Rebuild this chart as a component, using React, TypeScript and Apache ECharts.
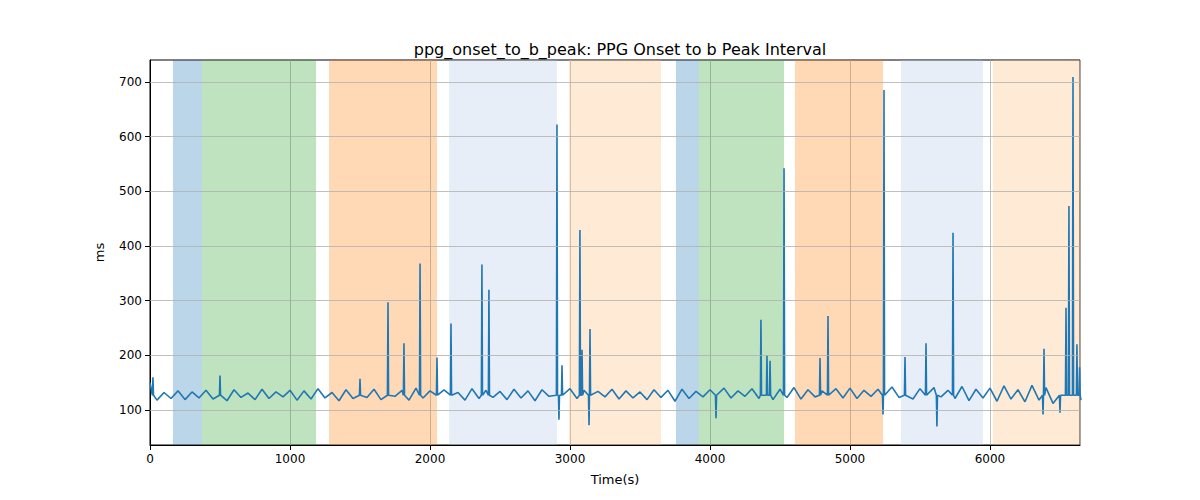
import { useEffect, useRef } from "react";
import * as echarts from "echarts";

// baseline samples, one every 50 s
const baseStep = 50;
const baseline = [
  150, 118, 132, 121, 135, 119, 133, 122, 136, 120,
  134, 117, 137, 123, 131, 119, 138, 121, 133, 124,
  136, 118, 135, 120, 139, 122, 132, 117, 137, 121,
  134, 123, 138, 119, 133, 125, 136, 118, 140, 122,
  135, 120, 137, 124, 132, 118, 139, 121, 136, 123,
  134, 119, 138, 122, 135, 117, 137, 125, 133, 120,
  139, 121, 136, 118, 134, 124, 138, 120, 135, 122,
  133, 119, 137, 123, 136, 116, 138, 121, 134, 124,
  137, 120, 140, 122, 135, 125, 139, 121, 136, 119,
  138, 123, 141, 120, 137, 124, 135, 118, 139, 122,
  140, 121, 136, 125, 138, 119, 142, 123, 137, 120,
  139, 118, 141, 124, 136, 121, 143, 117, 138, 122,
  140, 116, 144, 120, 137, 115, 145, 118, 141, 112,
  146, 114, 150, 118,
];

// spikes and dips [time, ms]
const spikes: [number, number][] = [
  [21, 160], [500, 163], [1500, 157], [1700, 297], [1814, 222],
  [1929, 368], [2050, 196], [2150, 258], [2371, 366], [2421, 320],
  [2907, 622], [2921, 82], [2943, 182], [3071, 429], [3086, 210],
  [3136, 72], [3143, 248], [4043, 85], [4364, 265], [4407, 200],
  [4429, 190], [4529, 542], [4786, 195], [4843, 272], [5236, 92],
  [5243, 685], [5393, 197], [5543, 222], [5621, 70], [5736, 424],
  [6379, 92], [6386, 212], [6500, 95], [6543, 287], [6564, 473],
  [6593, 709], [6621, 220], [6640, 178],
];
const spikeFoot = 127;
const spikeHalfWidth = 4;

// shaded segments [start, end, colour]
const bands: [number, number, string][] = [
  [164, 371, "rgba(31,119,180,0.3)"],
  [371, 1186, "rgba(44,160,44,0.3)"],
  [1279, 2050, "rgba(255,127,14,0.3)"],
  [2136, 2907, "rgba(174,199,232,0.3)"],
  [2993, 3650, "rgba(255,187,120,0.3)"],
  [3757, 3921, "rgba(31,119,180,0.3)"],
  [3921, 4529, "rgba(44,160,44,0.3)"],
  [4607, 5236, "rgba(255,127,14,0.3)"],
  [5364, 5950, "rgba(174,199,232,0.3)"],
  [6021, 6643, "rgba(255,187,120,0.3)"],
];

const yTicks = [100, 200, 300, 400, 500, 600, 700];

export default function App() {
  const ref = useRef<HTMLDivElement>(null);

  useEffect(() => {
    document.body.style.margin = "0";
    if (!ref.current) return;
    const chart = echarts.init(ref.current, null, { renderer: "svg" });
    const spikePts: [number, number][] = [];
    spikes.forEach(([x, y]) => {
      spikePts.push([x - spikeHalfWidth, spikeFoot], [x, y], [x + spikeHalfWidth, spikeFoot]);
    });
    const points: [number, number][] = baseline
      .map((v, i) => [i * baseStep, v] as [number, number])
      .filter(([x]) => !spikes.some(([s]) => Math.abs(s - x) < 8))
      .concat(spikePts)
      .sort((a, b) => a[0] - b[0]);
    const font = "DejaVu Sans";
    chart.setOption({
      animation: false,
      textStyle: { fontFamily: font },
      title: {
        text: "ppg_onset_to_b_peak: PPG Onset to b Peak Interval",
        left: 615,
        top: 36,
        textAlign: "center",
        textStyle: { fontSize: 16, fontWeight: "normal", color: "#000", fontFamily: font },
      },
      grid: { left: 150, right: 120, top: 60, bottom: 55, show: true, borderColor: "#000", borderWidth: 1, backgroundColor: "transparent" },
      xAxis: {
        type: "value",
        min: 0,
        max: 6643,
        interval: 1000,
        name: "Time(s)",
        nameLocation: "middle",
        nameGap: 28,
        nameTextStyle: { fontSize: 13, color: "#000" },
        axisLine: { onZero: false, lineStyle: { color: "#000" } },
        axisTick: { lineStyle: { color: "#000" } },
        axisLabel: { color: "#000", fontSize: 12, showMaxLabel: false, formatter: (v: number) => String(v) },
        splitLine: { show: true, lineStyle: { color: "#b0b0b0", width: 0.8 } },
      },
      yAxis: {
        type: "value",
        min: 36,
        max: 740,
        name: "ms",
        nameLocation: "middle",
        nameGap: 44,
        nameTextStyle: { fontSize: 13, color: "#000" },
        axisLine: { show: true, lineStyle: { color: "#000" } },
        axisTick: { show: true, customValues: yTicks, lineStyle: { color: "#000" } },
        axisLabel: { color: "#000", fontSize: 12, customValues: yTicks },
        splitLine: { show: false },
      },
      series: [
        {
          type: "line",
          data: points,
          showSymbol: false,
          lineStyle: { color: "#1f77b4", width: 1.6 },
          markArea: {
            silent: true,
            data: bands.map(([a, b, c]) => [
              { xAxis: a, itemStyle: { color: c } },
              { xAxis: b },
            ]),
          },
          markLine: {
            silent: true,
            symbol: "none",
            label: { show: false },
            lineStyle: { color: "#b0b0b0", width: 0.8, type: "solid" },
            data: yTicks.map((v) => ({ yAxis: v })),
          },
        },
      ],
    });
    return () => chart.dispose();
  }, []);

  return <div ref={ref} style={{ width: 1200, height: 500 }} />;
}
